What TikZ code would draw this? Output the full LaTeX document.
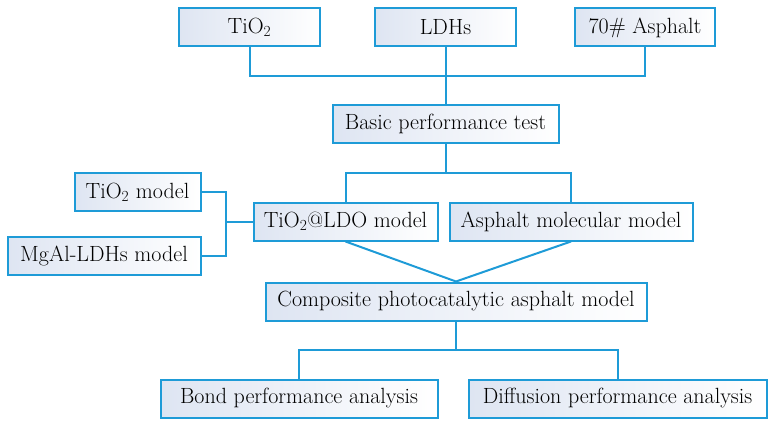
\documentclass[tikz,border=0pt]{standalone}
\usepackage{xcolor}
\usepackage{tikz}
\usetikzlibrary{positioning}
\definecolor{linkblue}{RGB}{30,155,215}
\definecolor{boxshade}{RGB}{222,229,242}
\tikzset{
    box/.style={rectangle, draw=linkblue, line width=2pt, left color=boxshade, right color=white, minimum height=38pt, inner xsep=4pt, inner ysep=1pt, font=\fontsize{22}{26}\selectfont},
    link/.style={draw=linkblue, line width=2pt}
}

\begin{document}
\begin{tikzpicture}
    \useasboundingbox (0,0) rectangle (771pt,-428pt);

    % Raw materials
    \node[box, minimum width=141pt] (LDHs) at (445.5pt,-27.5pt) {LDHs};
    \node[box, minimum width=141pt, left=53pt of LDHs] (TiO2) {TiO\textsubscript{2}};
    \node[box, minimum width=140pt, right=57pt of LDHs] (Asph70) {70\# Asphalt};

    % Test
    \node[box, minimum width=226pt, below=56pt of LDHs] (Basic) {Basic performance test};

    % Models
    \node[box, minimum width=184pt, below=58pt of Basic, xshift=-100pt] (LDO) {TiO\textsubscript{2}@LDO model};
    \node[box, minimum width=243pt, right=10pt of LDO] (Molec) {Asphalt molecular model};
    \node[box, minimum width=126pt, left=51pt of LDO, yshift=29.5pt] (TModel) {TiO\textsubscript{2} model};
    \node[box, minimum width=193pt, below=24pt of TModel.south east, anchor=north east] (MgAl) {MgAl-LDHs model};

    % Composite
    \node[box, minimum width=381pt, below=40pt of LDO, xshift=110.5pt] (Comp) {Composite photocatalytic asphalt model};

    % Analysis
    \node[box, minimum width=277pt, below=57pt of Comp, xshift=-157pt] (Bond) {Bond performance analysis};
    \node[box, minimum width=298pt, right=29pt of Bond] (Diff) {Diffusion performance analysis};

    % Joints
    \coordinate[below=29pt of LDHs.south] (J1);
    \coordinate[below=29pt of Basic.south] (J2);
    \coordinate[left=27pt of LDO.west] (J3);
    \coordinate[below=28pt of Comp.south] (J4);

    % Connections
    \draw[link] (TiO2.south) |- (J1) -| (Asph70.south);
    \draw[link] (LDHs) -- (Basic);
    \draw[link] (Basic) -- (J2);
    \draw[link] (LDO.north) |- (J2) -| (Molec.north);
    \draw[link] (TModel.east) -| (J3);
    \draw[link] (MgAl.east) -| (J3);
    \draw[link] (J3) -- (LDO.west);
    \draw[link] (LDO.south) -- (Comp.north);
    \draw[link] (Molec.south) -- (Comp.north);
    \draw[link] (Comp) -- (J4);
    \draw[link] (Bond.north) |- (J4) -| (Diff.north);

\end{tikzpicture}
\end{document}
